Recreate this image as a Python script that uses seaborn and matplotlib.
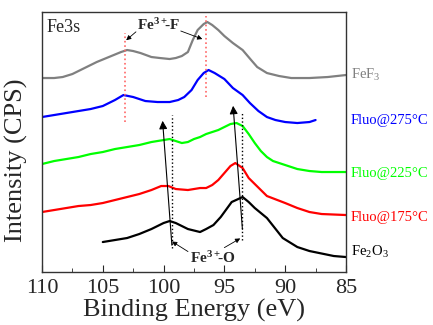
import numpy as np
import pandas as pd
import seaborn as sns
import matplotlib.pyplot as plt
from matplotlib.ticker import MultipleLocator

# Datos (energia de enlace en eV, intensidad con offset)
e_fe2o3 = [105, 104, 103, 102, 101, 100, 99.5, 99, 98, 97, 96.5, 95.9, 95.3, 94.4, 93.5, 93, 92.5, 91.5, 90.2, 89, 88, 86, 85]
i_fe2o3 = [30, 32, 34, 38, 43, 49, 51, 49, 43, 40, 43, 47, 55, 70, 75, 70, 64, 54, 34, 25, 21, 16, 15]

e_175 = [110, 109, 108, 107, 106, 105, 104, 103, 102, 101, 100.2, 99.6, 99, 98, 97, 96.5, 96, 95.5, 95, 94.5, 94.1, 93.5, 93, 92, 91.5, 90, 89, 88, 87, 85]
i_175 = [60, 62, 64, 66, 67, 69, 72, 75, 78, 82, 86, 86, 83, 82, 84, 84, 87, 92, 99, 106, 109, 104, 94, 82, 76, 69, 64, 60, 58, 57]

e_225 = [110, 109, 108, 107, 106, 105, 104, 103, 102, 101, 100, 99.5, 99, 98.5, 98, 97.5, 97, 96.5, 96, 95.5, 95, 94.5, 94, 93.5, 93, 92.5, 92, 91.5, 91, 90, 89, 88, 87, 85]
i_225 = [108, 111, 113, 115, 118, 120, 123, 125, 127, 130, 132, 133, 131, 129, 130, 133, 135, 138, 140, 142, 145, 148, 149, 146, 138, 129, 121, 115, 111, 107, 103, 101, 100, 100]

e_275 = [110, 109, 108, 107, 106, 105, 104, 103.3, 102.5, 101.5, 100.5, 99.5, 98.8, 98.3, 97.7, 97.2, 96.7, 96.3, 95.8, 95, 94.3, 93.5, 92.9, 92.2, 91.5, 90.8, 90, 89, 88, 87.5]
i_275 = [155, 157, 159, 161, 163, 166, 172, 177, 175, 171, 170, 170, 172, 175, 182, 192, 199, 202, 199, 193, 184, 177, 169, 161, 155, 152, 150, 149, 150, 152]

e_fef3 = [110, 109, 108.3, 107.5, 106.5, 105.5, 104.5, 103.5, 103, 102.5, 101.9, 101, 100.3, 99.5, 99, 98.5, 98, 97.6, 97.2, 96.7, 96.4, 96, 95.5, 95, 94.3, 93.5, 92.8, 92.3, 91.5, 90.5, 89.5, 88, 86.5, 85]
i_fef3 = [194, 194, 195, 198, 204, 210, 215, 220, 222, 221, 219, 215, 214, 213, 214, 216, 220, 232, 242, 248, 250, 247, 242, 236, 229, 222, 212, 205, 199, 196, 194, 194, 195, 197]

series = [
    ('Fe$_2$O$_3$', e_fe2o3, i_fe2o3, 'black', 20),
    ('Fluo@175°C', e_175, i_175, '#ff0000', 55),
    ('Fluo@225°C', e_225, i_225, '#00ff00', 99),
    ('Fluo@275°C', e_275, i_275, '#0000ff', 152),
    ('FeF$_3$', e_fef3, i_fef3, 'gray', 197),
]

sns.set_style('ticks')
plt.rcParams['font.family'] = ['Liberation Serif', 'DejaVu Serif']
plt.rcParams['mathtext.fontset'] = 'custom'
plt.rcParams['mathtext.rm'] = 'Liberation Serif'
plt.rcParams['mathtext.bf'] = 'Liberation Serif:bold'

fig = plt.figure(figsize=(4.33, 3.25), dpi=100)
ax = fig.add_axes([0.097, 0.163, 0.702, 0.8])

for name, e, i, color, ylab in series:
    df = pd.DataFrame({'energy': e, 'cps': i})
    sns.lineplot(data=df, x='energy', y='cps', color=color, lw=1.6, sort=False, ax=ax)
    ax.text(84.6, ylab, name, color=color, fontsize=10.5, ha='left', va='center', clip_on=False)

# lineas guia
ax.plot([103.2, 103.2], [150, 239], ls=':', color='#ff6666', lw=1.2)
ax.plot([96.5, 96.5], [175, 256], ls=':', color='#ff6666', lw=1.2)
ax.plot([99.3, 99.3], [24, 157], ls=':', color='black', lw=1)
ax.plot([93.55, 93.55], [32, 159], ls=':', color='black', lw=1)

# flechas largas
ax.annotate('', xy=(100.1, 154), xytext=(99.3, 24),
            arrowprops=dict(arrowstyle='-|>', color='black', lw=0.8, mutation_scale=12))
ax.annotate('', xy=(94.3, 169), xytext=(93.5, 40),
            arrowprops=dict(arrowstyle='-|>', color='black', lw=0.8, mutation_scale=12))

# etiquetas Fe3+
ax.text(100.4, 247, r'$\mathbf{Fe^{3+}\!\!\text{-}F}$', fontsize=11, ha='center', va='center')
ax.annotate('', xy=(103.25, 230), xytext=(102.1, 242),
            arrowprops=dict(arrowstyle='-|>', color='black', lw=0.6, mutation_scale=7))
ax.annotate('', xy=(96.6, 232), xytext=(98.8, 242),
            arrowprops=dict(arrowstyle='-|>', color='black', lw=0.6, mutation_scale=7))

ax.text(96.0, 14, r'$\mathbf{Fe^{3+}\!\!\text{-}O}$', fontsize=11, ha='center', va='center')
ax.annotate('', xy=(99.5, 32), xytext=(97.8, 19),
            arrowprops=dict(arrowstyle='-|>', color='black', lw=0.6, mutation_scale=7))
ax.annotate('', xy=(93.5, 35), xytext=(95.2, 23),
            arrowprops=dict(arrowstyle='-|>', color='black', lw=0.6, mutation_scale=7))

ax.text(109.6, 245, 'Fe3s', fontsize=13, ha='left', va='center')

ax.set_xlim(110, 85)
ax.set_ylim(0, 260)
ax.xaxis.set_major_locator(MultipleLocator(5))
ax.xaxis.set_minor_locator(MultipleLocator(2.5))
ax.tick_params(axis='x', which='both', direction='in', labelsize=16, pad=5)
ax.tick_params(axis='x', which='major', length=5)
ax.tick_params(axis='x', which='minor', length=3)
ax.set_yticks([])
for s in ax.spines.values():
    s.set_visible(True)
    s.set_linewidth(1.0)
    s.set_color('#333333')

ax.set_xlabel('Binding Energy (eV)', fontsize=19, labelpad=1)
ax.set_ylabel('Intensity (CPS)', fontsize=19)
ax.yaxis.set_label_coords(-0.045, 0.43)

plt.savefig('out.png', dpi=100)
